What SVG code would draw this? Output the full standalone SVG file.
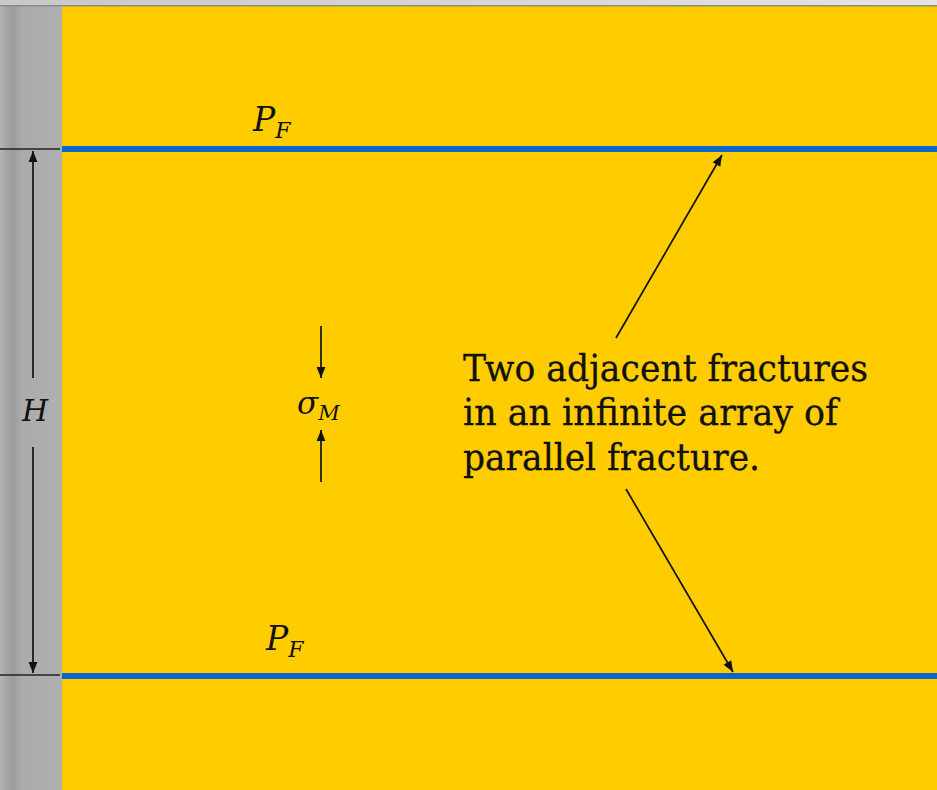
<svg xmlns="http://www.w3.org/2000/svg" width="937" height="790" viewBox="0 0 937 790">
<defs>
<linearGradient id="gstrip" x1="0" y1="0" x2="1" y2="0">
<stop offset="0" stop-color="#b4b4b4"/>
<stop offset="0.1" stop-color="#a6a6a6"/>
<stop offset="0.22" stop-color="#9c9c9c"/>
<stop offset="0.35" stop-color="#ababab"/>
<stop offset="1" stop-color="#b0b0b0"/>
</linearGradient>
<linearGradient id="gtop" x1="0" y1="0" x2="1" y2="0">
<stop offset="0" stop-color="#c8c8c8"/>
<stop offset="1" stop-color="#e4e4e4"/>
</linearGradient>
<marker id="ah" viewBox="0 0 10 10" refX="10" refY="5" markerWidth="12" markerHeight="11" markerUnits="userSpaceOnUse" orient="auto">
<path d="M0,1 L10,5 L0,9 Z" fill="#111"/>
</marker>
<style>
.frac{stroke:#0a66c8;stroke-width:6}
.dim{stroke:#222;stroke-width:1.4;fill:none}
.arr{stroke:#111;stroke-width:1.7;fill:none;marker-end:url(#ah)}
.math{font-family:"DejaVu Serif",serif;font-style:italic;fill:#111}
.lbl{font-family:"DejaVu Serif",serif;font-size:37px;fill:#111;stroke:#111;stroke-width:0.3}
</style>
</defs>
<rect x="0" y="0" width="937" height="790" fill="#ffcc00"/>
<rect x="0" y="0" width="62" height="790" fill="url(#gstrip)"/>
<rect x="0" y="0" width="937" height="6" fill="url(#gtop)"/>
<rect x="0" y="5" width="937" height="1.5" fill="#8a8a8a"/>
<g id="fracture-top">
<line class="frac" x1="62" y1="149" x2="937" y2="149"/>
<text class="math" x="253" y="131" font-size="33">P<tspan font-size="22" dy="7">F</tspan></text>
</g>
<g id="fracture-bottom">
<line class="frac" x1="62" y1="676" x2="937" y2="676"/>
<text class="math" x="266" y="650" font-size="33">P<tspan font-size="22" dy="7">F</tspan></text>
</g>
<g id="dimension-H">
<line class="dim" x1="0" y1="149" x2="60" y2="149"/>
<line class="dim" x1="0" y1="675" x2="60" y2="675"/>
<text class="math" x="35" y="421" font-size="30" text-anchor="middle">H</text>
</g>
<g id="stress">
<text class="math" x="297" y="414" font-size="31">σ<tspan font-size="21" dy="6">M</tspan></text>
</g>
<g id="label">
<text class="lbl" x="463" y="381" textLength="405" lengthAdjust="spacingAndGlyphs">Two adjacent fractures</text>
<text class="lbl" x="463" y="425" textLength="375" lengthAdjust="spacingAndGlyphs">in an infinite array of</text>
<text class="lbl" x="463" y="470" textLength="297" lengthAdjust="spacingAndGlyphs">parallel fracture.</text>
</g>
<g id="connectors">
<line class="arr" x1="33" y1="378" x2="33" y2="151"/>
<line class="arr" x1="33" y1="447" x2="33" y2="673"/>
<line class="arr" x1="321" y1="326" x2="321" y2="378"/>
<line class="arr" x1="321" y1="482" x2="321" y2="430"/>
<line class="arr" x1="616" y1="338" x2="722" y2="155"/>
<line class="arr" x1="626" y1="489" x2="733" y2="672"/>
</g>
</svg>
